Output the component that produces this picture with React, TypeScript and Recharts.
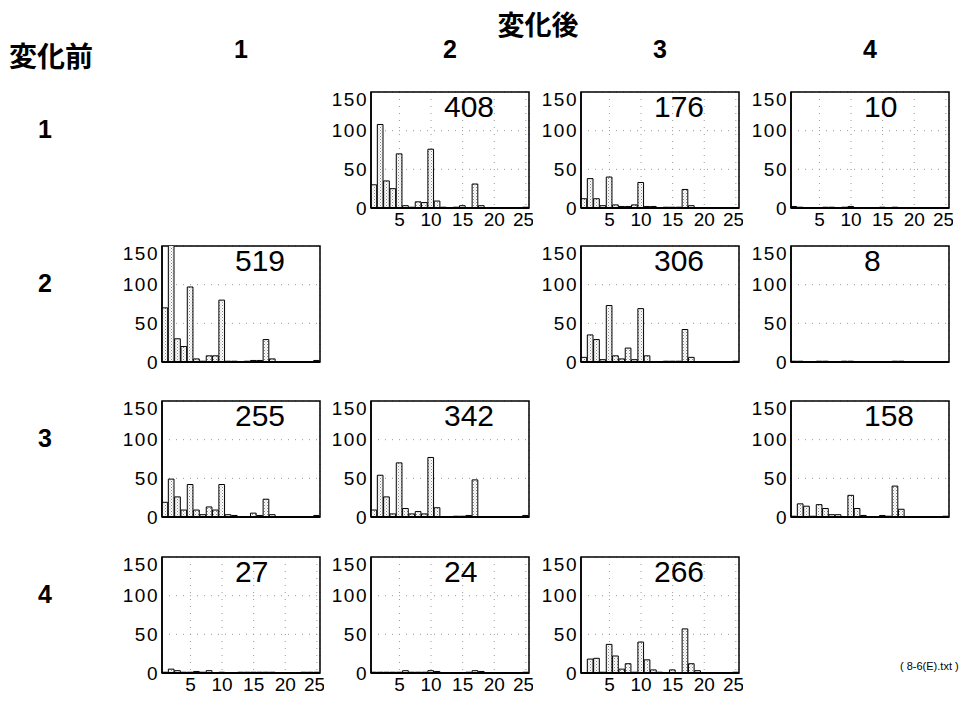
import { BarChart, Bar, XAxis, YAxis, CartesianGrid, ReferenceArea } from "recharts"

// 変化前 (row) x 変化後 (column) histograms, bins 1..25
const BINS = [1, 2, 3, 4, 5, 6, 7, 8, 9, 10, 11, 12, 13, 14, 15, 16, 17, 18, 19, 20, 21, 22, 23, 24, 25]
const X_TICKS = [5, 10, 15, 20, 25]
const Y_TICKS = [0, 50, 100, 150]
const ROW_LABELS = ["1", "2", "3", "4"]
const COL_LABELS = ["1", "2", "3", "4"]

const r1c2 = [30, 108, 35, 25, 70, 3, 1, 8, 7, 76, 9, 1, 0, 1, 3, 0, 31, 3, 0, 0, 0, 0, 0, 0, 1]
const r1c3 = [12, 38, 12, 3, 40, 4, 2, 2, 4, 33, 2, 2, 0, 1, 1, 1, 24, 3, 0, 0, 0, 0, 0, 0, 0]
const r1c4 = [2, 1, 0, 0, 0, 1, 1, 0, 1, 2, 0, 0, 0, 0, 1, 0, 1, 0, 0, 0, 0, 0, 0, 0, 0]
const r2c1 = [70, 160, 30, 20, 97, 4, 1, 8, 8, 80, 1, 1, 0, 1, 2, 2, 29, 4, 0, 0, 0, 0, 0, 0, 2]
const r2c3 = [6, 35, 29, 3, 73, 8, 4, 18, 3, 69, 8, 0, 0, 1, 1, 1, 42, 6, 0, 0, 0, 0, 0, 0, 1]
const r2c4 = [1, 1, 0, 0, 1, 1, 0, 0, 1, 1, 0, 0, 0, 0, 0, 0, 1, 1, 0, 0, 0, 0, 0, 0, 0]
const r3c1 = [19, 49, 26, 9, 42, 9, 3, 13, 9, 42, 3, 2, 0, 0, 5, 2, 23, 3, 0, 0, 0, 0, 0, 0, 2]
const r3c2 = [9, 54, 26, 4, 70, 11, 4, 7, 4, 77, 12, 0, 0, 1, 1, 2, 48, 0, 0, 0, 0, 0, 0, 0, 2]
const r3c4 = [1, 17, 14, 1, 16, 11, 3, 3, 0, 28, 11, 2, 0, 0, 2, 1, 40, 10, 0, 0, 0, 0, 0, 0, 1]
const r4c1 = [1, 5, 3, 1, 1, 2, 1, 3, 0, 1, 0, 0, 1, 1, 1, 1, 1, 1, 0, 0, 0, 0, 1, 1, 1]
const r4c2 = [1, 1, 1, 1, 1, 3, 1, 1, 1, 3, 2, 0, 0, 0, 0, 1, 3, 2, 0, 0, 0, 0, 0, 0, 1]
const r4c3 = [0, 18, 19, 1, 37, 22, 5, 12, 1, 40, 17, 4, 1, 0, 4, 0, 57, 12, 3, 0, 0, 0, 0, 0, 1]

const TOTALS = [408, 176, 10, 519, 306, 8, 255, 342, 158, 27, 24, 266]

// [row, col, values, total index]
const PANELS: [number, number, number[], number][] = [
	[0, 1, r1c2, 0],
	[0, 2, r1c3, 1],
	[0, 3, r1c4, 2],
	[1, 0, r2c1, 3],
	[1, 2, r2c3, 4],
	[1, 3, r2c4, 5],
	[2, 0, r3c1, 6],
	[2, 1, r3c2, 7],
	[2, 3, r3c4, 8],
	[3, 0, r4c1, 9],
	[3, 1, r4c2, 10],
	[3, 2, r4c3, 11],
]

const COL_LEFT = [162, 371, 581, 791]
const ROW_TOP = [92, 246, 401, 557]
const PLOT_W = 158
const PLOT_H = 116
const Y_W = 48
const M_TOP = 4
const X_H = 26
const M_RIGHT = 4

const NUM_FONT = "'Liberation Sans', Arial, sans-serif"
const JP_FONT = "'Noto Sans CJK JP', sans-serif"

function Panel({ row, col, values, total }: { row: number; col: number; values: number[]; total: number }) {
	const data = BINS.map((b, i) => ({ bin: b, n: values[i] }))
	const showX = row === 0 || row === 3
	return (
		<div style={{ position: "absolute", left: COL_LEFT[col] - Y_W, top: ROW_TOP[row] - M_TOP }}>
			<BarChart
				width={Y_W + PLOT_W + M_RIGHT}
				height={M_TOP + PLOT_H + X_H}
				data={data}
				margin={{ top: M_TOP, right: M_RIGHT, bottom: 0, left: 0 }}
				barGap={0}
				barCategoryGap={0}
			>
				<CartesianGrid stroke="#999" strokeDasharray="1 6" />
				<XAxis
					dataKey="bin"
					type="number"
					domain={[0.5, 25.5]}
					ticks={X_TICKS}
					height={X_H}
					tick={showX ? { fill: "#000", fontSize: 19, fontFamily: NUM_FONT } : false}
					tickSize={0}
					tickMargin={5}
					axisLine={{ stroke: "#000", strokeWidth: 2 }}
				/>
				<YAxis
					domain={[0, 150]}
					ticks={Y_TICKS}
					allowDataOverflow
					width={Y_W}
					tick={{ fill: "#000", fontSize: 19, fontFamily: NUM_FONT, letterSpacing: 1.5 }}
					tickSize={0}
					tickMargin={3}
					axisLine={{ stroke: "#000", strokeWidth: 1.5 }}
				/>
				<Bar dataKey="n" fill="url(#hatch)" stroke="#000" strokeWidth={1} barSize={PLOT_W / 25} isAnimationActive={false} />
				<ReferenceArea x1={0.5} x2={25.5} y1={0} y2={150} fill="none" stroke="#000" strokeWidth={1.5} />
				<text x={Y_W + 73} y={M_TOP + 25} fontSize={30} fontFamily={NUM_FONT} fill="#000">
					{total}
				</text>
			</BarChart>
		</div>
	)
}

export default function App() {
	return (
		<div style={{ position: "absolute", left: 0, top: 0, width: 978, height: 713, background: "#fff", fontFamily: NUM_FONT }}>
			<svg width={0} height={0} style={{ position: "absolute" }}>
				<defs>
					<pattern id="hatch" width={3} height={3} patternUnits="userSpaceOnUse">
						<rect width={3} height={3} fill="#fff" />
						<rect x={0} y={0} width={1} height={1} fill="#888" />
						<rect x={1.5} y={1.5} width={1} height={1} fill="#aaa" />
					</pattern>
				</defs>
			</svg>
			<div style={{ position: "absolute", left: 488, top: 4, width: 100, textAlign: "center", fontFamily: JP_FONT, fontWeight: 700, fontSize: 27 }}>
				変化後
			</div>
			<div style={{ position: "absolute", left: 9, top: 35, fontFamily: JP_FONT, fontWeight: 700, fontSize: 28 }}>変化前</div>
			{COL_LABELS.map((c, i) => (
				<div key={"c" + c} style={{ position: "absolute", left: COL_LEFT[i] + PLOT_W / 2 - 20, top: 35, width: 40, textAlign: "center", fontSize: 25, fontWeight: 700 }}>
					{c}
				</div>
			))}
			{ROW_LABELS.map((r, i) => (
				<div key={"r" + r} style={{ position: "absolute", left: 25, top: ROW_TOP[i] + 23, width: 40, textAlign: "center", fontSize: 25, fontWeight: 700 }}>
					{r}
				</div>
			))}
			{PANELS.map(([row, col, values, t]) => (
				<Panel key={row + "-" + col} row={row} col={col} values={values} total={TOTALS[t]} />
			))}
			<div style={{ position: "absolute", left: 900, top: 660, fontSize: 11 }}>( 8-6(E).txt )</div>
		</div>
	)
}
